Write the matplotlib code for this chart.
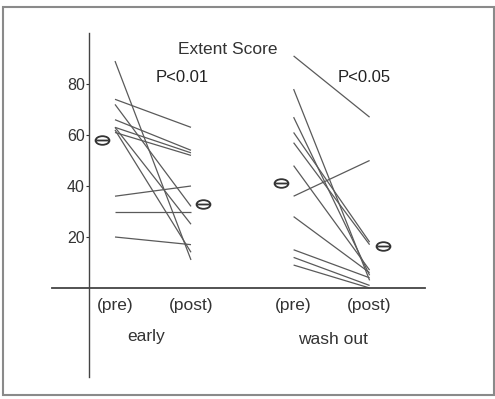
import numpy as np
import matplotlib
matplotlib.use("Agg")
import matplotlib.pyplot as plt
from matplotlib.path import Path
from matplotlib.patches import Rectangle

# ---- data ----
early_pre = [89, 74, 72, 66, 63, 63, 62, 61, 36, 30, 20]
early_post = [11, 63, 32, 54, 53, 25, 14, 52, 40, 30, 17]
wash_pre = [91, 78, 67, 61, 57, 48, 36, 28, 15, 12, 9]
wash_post = [67, 3, 5, 18, 17, 7, 50, 6, 4, 1, 0]
mean_values = [58, 33, 41, 16.5]
point_labels = ["(pre)", "(post)", "(pre)", "(post)"]
group_labels = ["early", "wash out"]
y_ticks = [20, 40, 60, 80]
p_labels = ["P<0.01", "P<0.05"]
title = "Extent Score"

plt.rcParams['font.family'] = ['Liberation Sans', 'DejaVu Sans']

W, H = 495, 399
fig = plt.figure(figsize=(W / 100, H / 100), dpi=100)

# axes in pixel geometry
left_px, right_px, top_px, bot_px = 52, 425, 33, 377
ax = fig.add_axes([left_px / W, 1 - bot_px / H, (right_px - left_px) / W, (bot_px - top_px) / H])

xpos = [0, 1, 2.35, 3.35]
px_per_x = 76.0
x0_px = 115
px_per_y = 2.55
y0_px = 288
ax.set_xlim((left_px - x0_px) / px_per_x, (right_px - x0_px) / px_per_x)
ax.set_ylim((y0_px - bot_px) / px_per_y, (y0_px - top_px) / px_per_y)

line_color = '#5a5a5a'
for a, b in zip(early_pre, early_post):
    ax.plot([xpos[0], xpos[1]], [a, b], color=line_color, lw=0.9, solid_capstyle='butt')
for a, b in zip(wash_pre, wash_post):
    ax.plot([xpos[2], xpos[3]], [a, b], color=line_color, lw=0.9, solid_capstyle='butt')

# mean marker: ellipse with horizontal bar
circ = Path.unit_circle()
ell = Path(circ.vertices * np.array([1.0, 0.62]), circ.codes)
bar = Path([(-0.85, 0), (0.85, 0)], [Path.MOVETO, Path.LINETO])
marker_path = Path.make_compound_path(ell, bar)
mean_x = [xpos[0] - 0.17, xpos[1] + 0.16, xpos[2] - 0.17, xpos[3] + 0.18]
ax.plot(mean_x, mean_values, linestyle='none', marker=marker_path, markersize=10,
        markerfacecolor='none', markeredgecolor='#333333', markeredgewidth=1.3)

# spines
for s in ['top', 'right']:
    ax.spines[s].set_visible(False)
ax.spines['left'].set_position(('data', (89 - x0_px) / px_per_x))
ax.spines['bottom'].set_position(('data', 0))
ax.spines['left'].set_color('#444444')
ax.spines['bottom'].set_color('#444444')
ax.spines['left'].set_linewidth(1.0)
ax.spines['bottom'].set_linewidth(1.3)

fs = 12.5
ax.set_yticks(y_ticks)
ax.set_yticklabels([str(v) for v in y_ticks], fontsize=11.5, color='#333333')
ax.tick_params(axis='y', direction='out', length=2, width=0.8, pad=1, colors='#333333')
ax.set_xticks(xpos)
ax.set_xticklabels(point_labels, fontsize=fs, color='#333333')
ax.tick_params(axis='x', length=0, pad=7)

ax.text((146 - x0_px) / px_per_x, (y0_px - 337) / px_per_y, group_labels[0], ha='center', va='center',
        fontsize=fs, color='#333333')
ax.text((333 - x0_px) / px_per_x, (y0_px - 339) / px_per_y, group_labels[1], ha='center', va='center',
        fontsize=fs, color='#333333')
ax.text((228 - x0_px) / px_per_x, (y0_px - 50) / px_per_y, title, ha='center', va='center',
        fontsize=fs, color='#333333')
ax.text((182 - x0_px) / px_per_x, (y0_px - 77) / px_per_y, p_labels[0], ha='center', va='center',
        fontsize=12, color='#222222')
ax.text((364 - x0_px) / px_per_x, (y0_px - 77) / px_per_y, p_labels[1], ha='center', va='center',
        fontsize=12, color='#222222')

# outer frame
fig.patches.append(Rectangle((3 / W, 1 - 395 / H), (494 - 3) / W, (395 - 7) / H,
                             transform=fig.transFigure, fill=False, edgecolor='#8a8a8a', lw=1.5))

fig.savefig('out.png', dpi=100)
